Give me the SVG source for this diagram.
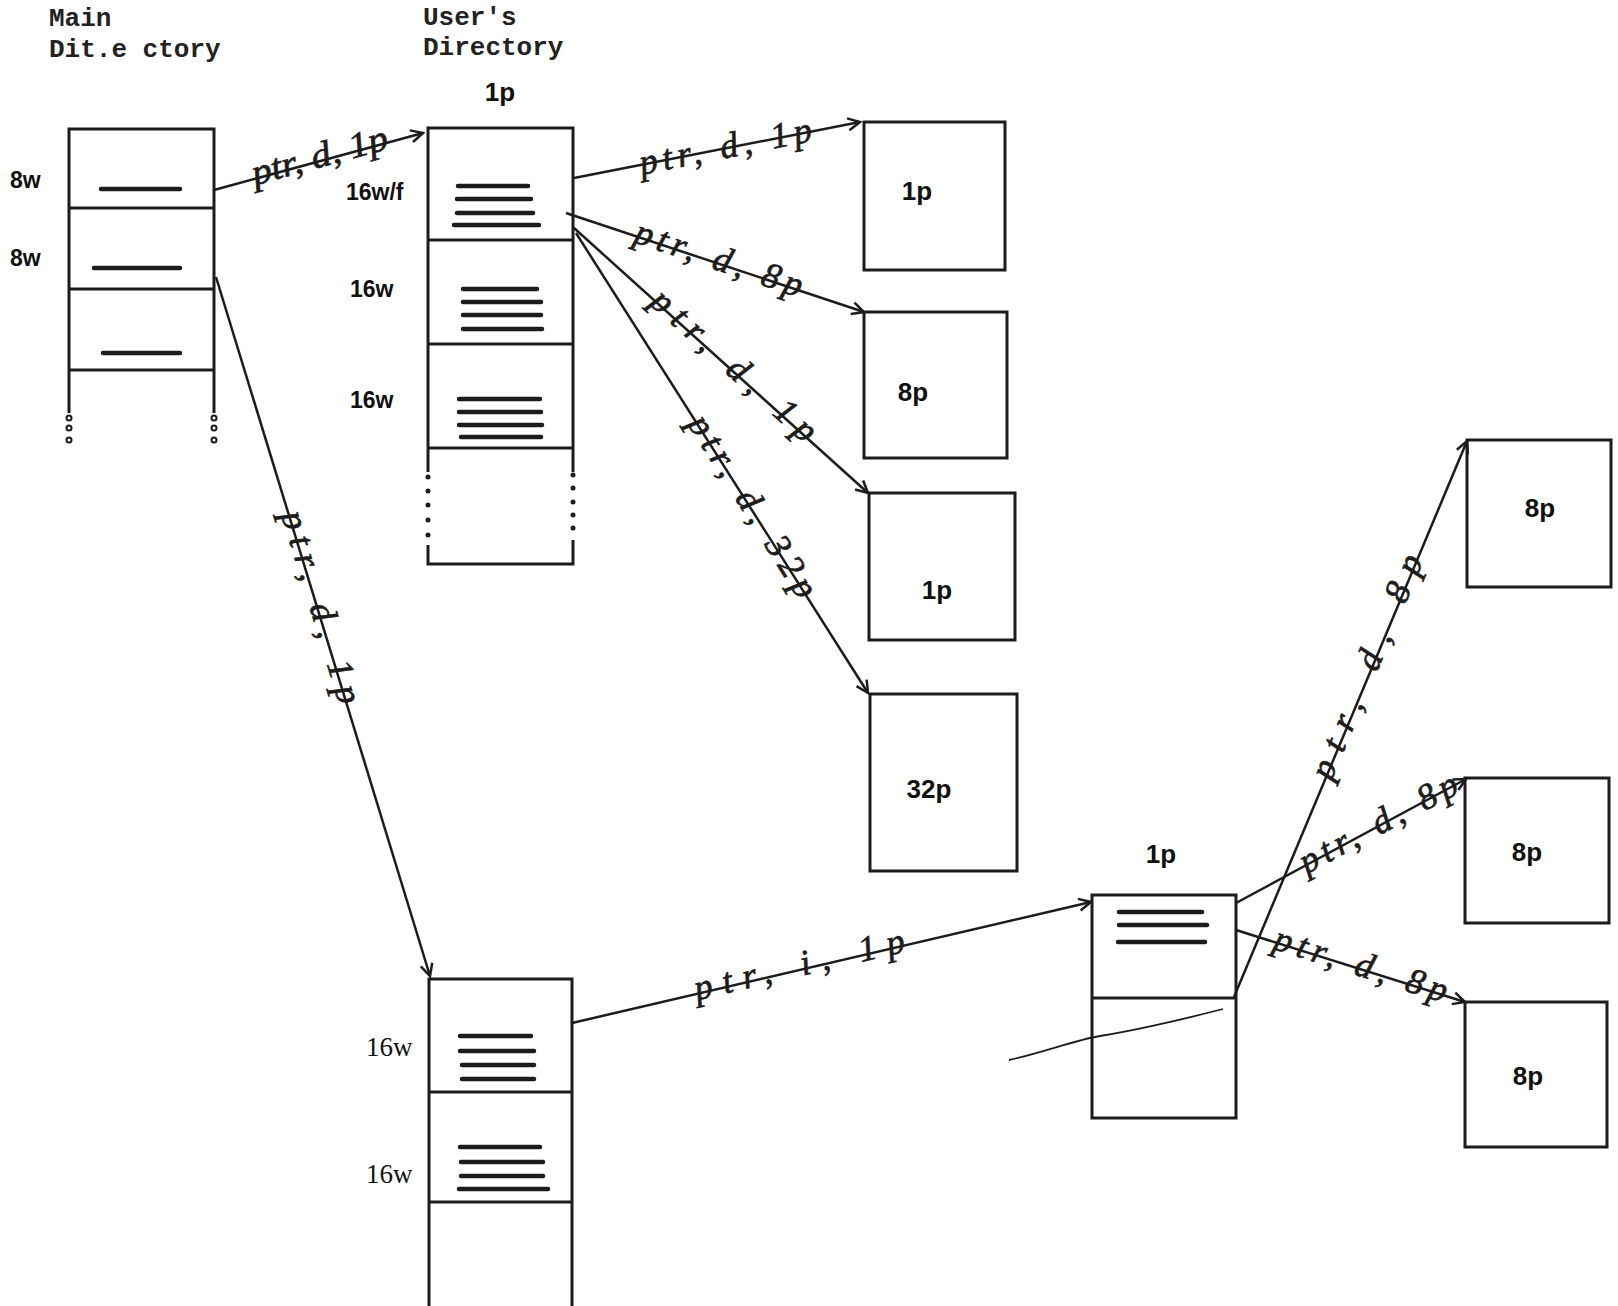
<svg xmlns="http://www.w3.org/2000/svg" width="1618" height="1306" viewBox="0 0 1618 1306">
<defs>
<style>
.box{fill:none;stroke:#1c1c1c;stroke-width:3}
.rule{stroke:#1c1c1c;stroke-width:4.5;stroke-linecap:round}
.conn{stroke:#1c1c1c;stroke-width:2.5;fill:none;marker-end:url(#arr)}
.dot{fill:none;stroke:#1c1c1c;stroke-width:2}
.hand{font-family:"Liberation Serif",serif;font-style:italic;font-size:36px;fill:#1c1c1c;stroke:#1c1c1c;stroke-width:0.7;text-anchor:middle}
.type{font-family:"Liberation Mono",monospace;font-size:26px;font-weight:bold;fill:#222}
.lbl{font-family:"Liberation Sans",Arial,sans-serif;font-weight:bold;font-size:26px;fill:#111;text-anchor:middle}
.side{font-family:"Liberation Sans",Arial,sans-serif;font-weight:bold;font-size:23px;fill:#111}
.side2{font-family:"Liberation Serif",serif;font-size:27px;fill:#111}
</style>
<marker id="arr" markerWidth="16" markerHeight="16" refX="14" refY="8" orient="auto" markerUnits="userSpaceOnUse">
<path d="M2,2 L14,8 L2,14" fill="none" stroke="#1c1c1c" stroke-width="2.5"/>
</marker>
</defs>
<rect width="1618" height="1306" fill="#ffffff"/>

<g id="titles">
<text class="type" x="49" y="26">Main</text>
<text class="type" x="49" y="57">Dit.e ctory</text>
<text class="type" x="423" y="25">User's</text>
<text class="type" x="423" y="55">Directory</text>
</g>

<g id="main-directory">
<path class="box" d="M69,413 L69,129 L214,129 L214,413 M69,208 L214,208 M69,289 L214,289 M69,370 L214,370"/>
<line class="rule" x1="101" y1="189" x2="180" y2="189"/>
<line class="rule" x1="94" y1="268" x2="180" y2="268"/>
<line class="rule" x1="103" y1="353" x2="180" y2="353"/>
<circle class="dot" cx="69" cy="418" r="2.5"/><circle class="dot" cx="69" cy="428" r="2.5"/><circle class="dot" cx="69" cy="440" r="2.5"/>
<circle class="dot" cx="214" cy="418" r="2.5"/><circle class="dot" cx="214" cy="428" r="2.5"/><circle class="dot" cx="214" cy="440" r="2.5"/>
<text class="side" x="10" y="188">8w</text>
<text class="side" x="10" y="266">8w</text>
</g>

<g id="user-directory">
<text class="lbl" x="500" y="101">1p</text>
<path class="box" d="M428,472 L428,128 L573,128 L573,472 M428,240 L573,240 M428,344 L573,344 M428,448 L573,448 M428,545 L428,564 L573,564 L573,540"/>
<g fill="#1c1c1c">
<circle cx="428" cy="477" r="2.5"/><circle cx="428" cy="491" r="2.5"/><circle cx="428" cy="505" r="2.5"/><circle cx="428" cy="520" r="2.5"/><circle cx="428" cy="535" r="2.5"/>
<circle cx="573" cy="475" r="2.5"/><circle cx="573" cy="488" r="2.5"/><circle cx="573" cy="502" r="2.5"/><circle cx="573" cy="515" r="2.5"/><circle cx="573" cy="528" r="2.5"/>
</g>
<line class="rule" x1="458" y1="186" x2="528" y2="186"/>
<line class="rule" x1="457" y1="199" x2="531" y2="199"/>
<line class="rule" x1="457" y1="213" x2="533" y2="213"/>
<line class="rule" x1="454" y1="225" x2="539" y2="225"/>
<line class="rule" x1="463" y1="289" x2="537" y2="289"/>
<line class="rule" x1="463" y1="302" x2="541" y2="302"/>
<line class="rule" x1="463" y1="315" x2="541" y2="315"/>
<line class="rule" x1="463" y1="329" x2="542" y2="329"/>
<line class="rule" x1="459" y1="399" x2="540" y2="399"/>
<line class="rule" x1="459" y1="412" x2="541" y2="412"/>
<line class="rule" x1="459" y1="425" x2="542" y2="425"/>
<line class="rule" x1="461" y1="437" x2="541" y2="437"/>
<text class="side" x="346" y="200">16w/f</text>
<text class="side" x="350" y="297">16w</text>
<text class="side" x="350" y="408">16w</text>
</g>

<g id="file-1p-a"><rect class="box" x="864" y="122" width="141" height="148"/><text class="lbl" x="917" y="200">1p</text></g>
<g id="file-8p-a"><rect class="box" x="864" y="312" width="143" height="146"/><text class="lbl" x="913" y="401">8p</text></g>
<g id="file-1p-b"><rect class="box" x="869" y="493" width="146" height="147"/><text class="lbl" x="937" y="599">1p</text></g>
<g id="file-32p"><rect class="box" x="870" y="694" width="147" height="177"/><text class="lbl" x="929" y="798">32p</text></g>

<g id="user-directory-2">
<path class="box" d="M429,1306 L429,979 L572,979 L572,1306 M429,1092 L572,1092 M429,1202 L572,1202"/>
<line class="rule" x1="460" y1="1036" x2="531" y2="1036"/>
<line class="rule" x1="460" y1="1051" x2="534" y2="1051"/>
<line class="rule" x1="462" y1="1065" x2="534" y2="1065"/>
<line class="rule" x1="462" y1="1079" x2="534" y2="1079"/>
<line class="rule" x1="460" y1="1147" x2="540" y2="1147"/>
<line class="rule" x1="461" y1="1162" x2="543" y2="1162"/>
<line class="rule" x1="461" y1="1176" x2="543" y2="1176"/>
<line class="rule" x1="459" y1="1189" x2="548" y2="1189"/>
<text class="side2" x="366" y="1056">16w</text>
<text class="side2" x="366" y="1183">16w</text>
</g>

<g id="index-block">
<text class="lbl" x="1161" y="863">1p</text>
<path class="box" d="M1092,895 L1236,895 L1236,1118 L1092,1118 Z M1092,998 L1236,998"/>
<line class="rule" x1="1119" y1="912" x2="1202" y2="912"/>
<line class="rule" x1="1119" y1="925" x2="1207" y2="925"/>
<line class="rule" x1="1118" y1="942" x2="1205" y2="942"/>
<path d="M1009,1060 C1045,1052 1075,1040 1100,1036 S1180,1020 1223,1009" fill="none" stroke="#1c1c1c" stroke-width="1.8"/>
</g>

<g id="file-8p-b"><rect class="box" x="1467" y="440" width="144" height="147"/><text class="lbl" x="1540" y="517">8p</text></g>
<g id="file-8p-c"><rect class="box" x="1465" y="778" width="144" height="145"/><text class="lbl" x="1527" y="861">8p</text></g>
<g id="file-8p-d"><rect class="box" x="1465" y="1002" width="142" height="145"/><text class="lbl" x="1528" y="1085">8p</text></g>

<g id="connectors">
<line class="conn" x1="214" y1="190" x2="423" y2="133"/>
<line class="conn" x1="216" y1="277" x2="430" y2="976"/>
<line class="conn" x1="574" y1="178" x2="860" y2="122"/>
<line class="conn" x1="566" y1="213" x2="864" y2="312"/>
<line class="conn" x1="574" y1="228" x2="868" y2="493"/>
<line class="conn" x1="576" y1="233" x2="868" y2="693"/>
<line class="conn" x1="572" y1="1023" x2="1091" y2="902"/>
<line class="conn" x1="1234" y1="997" x2="1467" y2="441"/>
<line class="conn" x1="1236" y1="903" x2="1466" y2="779"/>
<line class="conn" x1="1236" y1="930" x2="1465" y2="1002"/>
<text class="hand" transform="translate(321,161) rotate(-15.3)" y="6" textLength="140" lengthAdjust="spacingAndGlyphs">ptr, d, 1p</text>
<text class="hand" transform="translate(726,150) rotate(-11.2)" y="8" textLength="175" lengthAdjust="spacing">ptr, d, 1p</text>
<text class="hand" transform="translate(718,262) rotate(18.5)" y="8" textLength="175" lengthAdjust="spacing">ptr, d, 8p</text>
<text class="hand" transform="translate(732,368) rotate(42)" y="8" textLength="210" lengthAdjust="spacing">ptr, d, 1p</text>
<text class="hand" transform="translate(750,508) rotate(57.6)" y="8" textLength="210" lengthAdjust="spacing">ptr, d, 32p</text>
<text class="hand" transform="translate(318,608) rotate(73)" y="8" textLength="200" lengthAdjust="spacing">ptr, d, 1p</text>
<text class="hand" transform="translate(800,968) rotate(-13.1)" y="8" textLength="215" lengthAdjust="spacing">ptr, i, 1p</text>
<text class="hand" transform="translate(1370,668) rotate(-67.3)" y="8" textLength="240" lengthAdjust="spacing">ptr, d, 8p</text>
<text class="hand" transform="translate(1380,826) rotate(-28)" y="8" textLength="175" lengthAdjust="spacing">ptr, d, 8p</text>
<text class="hand" transform="translate(1360,968) rotate(17.5)" y="8" textLength="180" lengthAdjust="spacing">ptr, d, 8p</text>
</g>
</svg>
